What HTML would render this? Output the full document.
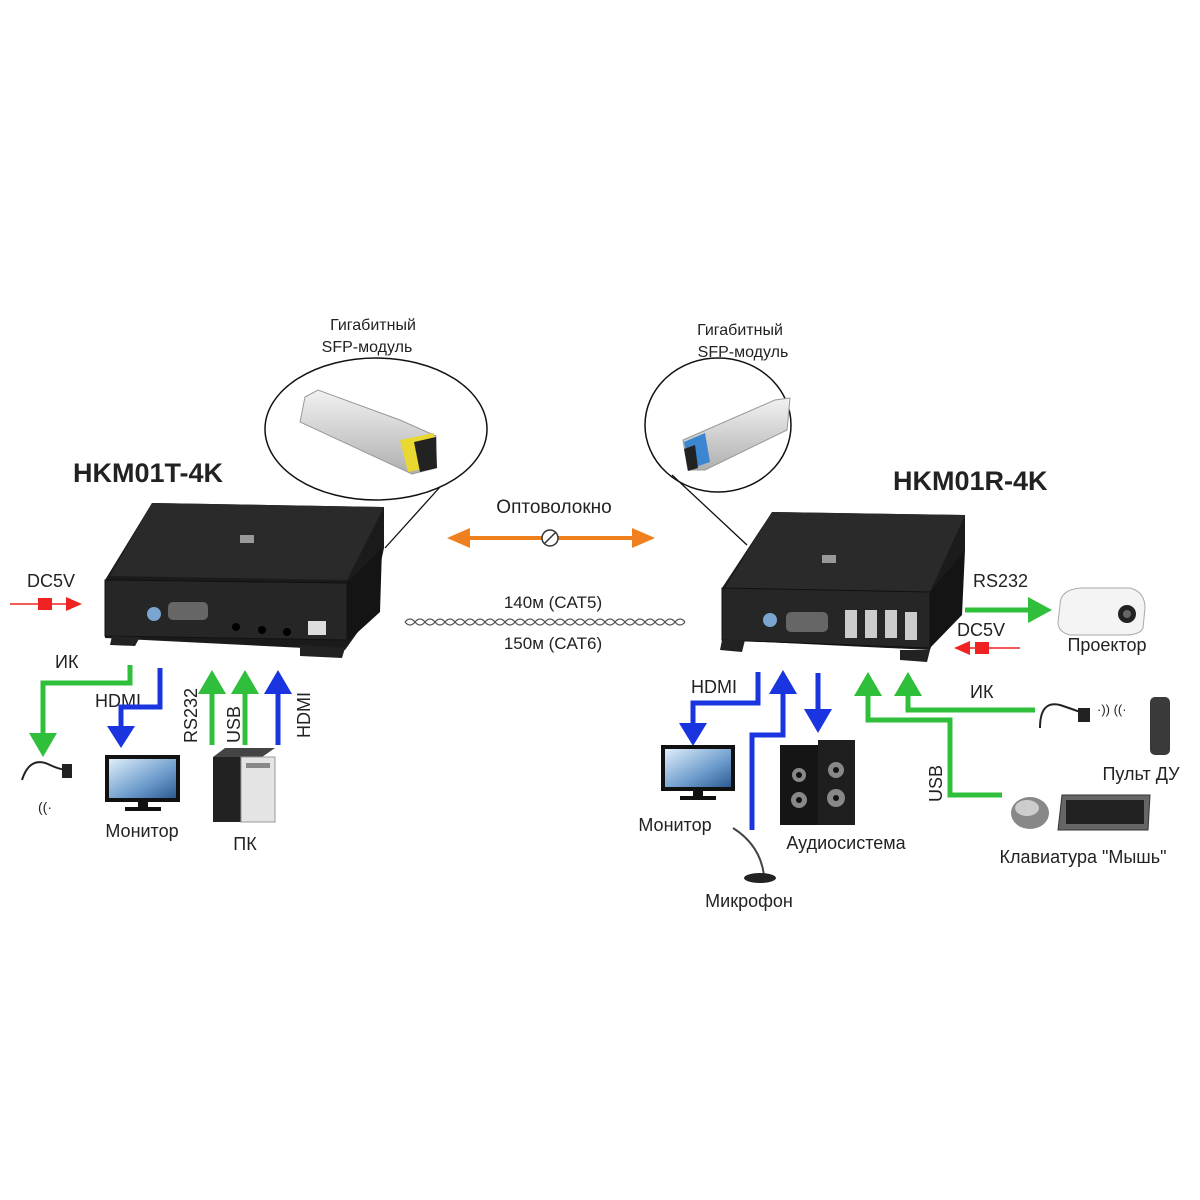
<!DOCTYPE html>
<html><head><meta charset="utf-8"><style>
html,body{margin:0;padding:0;background:#fff}
svg{display:block}
text{font-family:"Liberation Sans","DejaVu Sans",sans-serif;fill:#222}
</style></head><body>
<svg width="1200" height="1200" viewBox="0 0 1200 1200" xmlns="http://www.w3.org/2000/svg">
<defs>
<linearGradient id="sfp" x1="0" y1="0" x2="0" y2="1"><stop offset="0" stop-color="#f2f2f2"/><stop offset="1" stop-color="#b0b0b0"/></linearGradient>
<linearGradient id="scr" x1="0" y1="0" x2="1" y2="1"><stop offset="0" stop-color="#dfeefa"/><stop offset=".6" stop-color="#6d9ccc"/><stop offset="1" stop-color="#2c5b95"/></linearGradient>
</defs>

<!-- SFP ellipses -->
<ellipse cx="376" cy="429" rx="111" ry="71" fill="none" stroke="#111" stroke-width="1.5"/>
<line x1="440" y1="487" x2="385" y2="548" stroke="#111" stroke-width="1.3"/>
<ellipse cx="718" cy="425" rx="73" ry="67" fill="none" stroke="#111" stroke-width="1.5"/>
<line x1="672" y1="475" x2="747" y2="545" stroke="#111" stroke-width="1.3"/>
<!-- left SFP -->
<polygon points="305,397 318,390 400,420 436,436 436,468 412,474 300,422" fill="url(#sfp)" stroke="#999"/>
<polygon points="400,440 434,433 436,466 408,472" fill="#e8d830"/>
<polygon points="414,442 436,437 437,468 420,472" fill="#222"/>
<!-- right SFP -->
<polygon points="683,440 775,400 790,398 787,430 705,470 688,470" fill="url(#sfp)" stroke="#999"/>
<polygon points="684,442 705,433 710,462 690,469" fill="#3b86d0"/>
<polygon points="684,449 695,445 698,468 688,471" fill="#222"/>

<text x="373" y="330" font-size="16" text-anchor="middle">Гигабитный</text>
<text x="367" y="352" font-size="16" text-anchor="middle">SFP-модуль</text>
<text x="740" y="335" font-size="16" text-anchor="middle">Гигабитный</text>
<text x="743" y="357" font-size="16" text-anchor="middle">SFP-модуль</text>

<text x="73" y="482" font-size="27" font-weight="bold" fill="#111">HKM01T-4K</text>
<text x="893" y="490" font-size="27" font-weight="bold" fill="#111">HKM01R-4K</text>

<!-- left device -->
<polygon points="152,503 384,507 384,548 377,580 370,615 345,650 105,638 105,580" fill="#1b1b1b"/>
<polygon points="152,503 384,507 347,580 110,576" fill="#2a2a2a"/>
<polygon points="105,580 347,583 347,640 105,636" fill="#262626" stroke="#111"/>
<polygon points="347,583 382,548 380,612 347,642" fill="#141414"/>
<polygon points="112,636 140,637 135,646 110,645" fill="#222"/>
<polygon points="300,645 345,648 342,658 300,656" fill="#222"/>
<circle cx="154" cy="614" r="7" fill="#7aa5d0"/>
<rect x="168" y="602" width="40" height="18" rx="5" fill="#666"/>
<circle cx="236" cy="627" r="4" fill="#000"/><circle cx="262" cy="630" r="4" fill="#000"/><circle cx="287" cy="632" r="4" fill="#000"/>
<rect x="308" y="621" width="18" height="14" fill="#ddd"/>
<rect x="240" y="535" width="14" height="8" fill="#999"/>

<!-- right device -->
<polygon points="772,512 965,515 965,550 930,650 722,640 722,588" fill="#1b1b1b"/>
<polygon points="772,512 965,515 930,592 725,588" fill="#2a2a2a"/>
<polygon points="722,588 930,592 930,648 722,640" fill="#262626" stroke="#111"/>
<polygon points="930,592 965,550 962,615 930,648" fill="#141414"/>
<polygon points="722,640 745,640 742,652 720,650" fill="#222"/>
<polygon points="900,650 930,650 927,662 900,660" fill="#222"/>
<circle cx="770" cy="620" r="7" fill="#7aa5d0"/>
<rect x="786" y="612" width="42" height="20" rx="5" fill="#666"/>
<rect x="845" y="610" width="12" height="28" fill="#ccc"/><rect x="865" y="610" width="12" height="28" fill="#ccc"/>
<rect x="885" y="610" width="12" height="28" fill="#ccc"/><rect x="905" y="612" width="12" height="28" fill="#ccc"/>
<rect x="822" y="555" width="14" height="8" fill="#999"/>

<!-- fiber arrow -->
<line x1="462" y1="538" x2="640" y2="538" stroke="#f07f1e" stroke-width="4"/>
<polygon points="447,538 470,528 470,548" fill="#f07f1e"/>
<polygon points="655,538 632,528 632,548" fill="#f07f1e"/>
<circle cx="550" cy="538" r="8" fill="#fff" stroke="#333" stroke-width="1.5"/>
<line x1="544" y1="544" x2="556" y2="532" stroke="#333" stroke-width="1.5"/>
<text x="554" y="513" font-size="19" text-anchor="middle">Оптоволокно</text>

<text x="553" y="608" font-size="17" text-anchor="middle">140м (CAT5)</text>
<text x="553" y="649" font-size="17" text-anchor="middle">150м (CAT6)</text>
<path d="M405,622 Q410,616 415,622 T425,622 T435,622 T445,622 T455,622 T465,622 T475,622 T485,622 T495,622 T505,622 T515,622 T525,622 T535,622 T545,622 T555,622 T565,622 T575,622 T585,622 T595,622 T605,622 T615,622 T625,622 T635,622 T645,622 T655,622 T665,622 T675,622 T685,622" fill="none" stroke="#555" stroke-width="1.3"/>
<path d="M405,622 Q410,628 415,622 T425,622 T435,622 T445,622 T455,622 T465,622 T475,622 T485,622 T495,622 T505,622 T515,622 T525,622 T535,622 T545,622 T555,622 T565,622 T575,622 T585,622 T595,622 T605,622 T615,622 T625,622 T635,622 T645,622 T655,622 T665,622 T675,622 T685,622" fill="none" stroke="#555" stroke-width="1.3"/>

<!-- LEFT connections -->
<text x="27" y="587" font-size="18">DC5V</text>
<line x1="10" y1="604" x2="68" y2="604" stroke="#e22" stroke-width="1.5"/>
<rect x="38" y="598" width="14" height="12" fill="#e22"/>
<polygon points="82,604 66,597 66,611" fill="#e22"/>

<text x="55" y="668" font-size="18">ИК</text>
<polyline points="130,665 130,683 43,683 43,735" fill="none" stroke="#2fbf3a" stroke-width="5"/>
<polygon points="43,757 29,733 57,733" fill="#2fbf3a"/>
<text x="95" y="707" font-size="18">HDMI</text>
<polyline points="160,668 160,707 121,707 121,728" fill="none" stroke="#1a35e0" stroke-width="5"/>
<polygon points="121,748 107,726 135,726" fill="#1a35e0"/>

<line x1="212" y1="745" x2="212" y2="690" stroke="#2fbf3a" stroke-width="5"/>
<polygon points="212,670 198,694 226,694" fill="#2fbf3a"/>
<line x1="245" y1="745" x2="245" y2="690" stroke="#2fbf3a" stroke-width="5"/>
<polygon points="245,670 231,694 259,694" fill="#2fbf3a"/>
<line x1="278" y1="745" x2="278" y2="690" stroke="#1a35e0" stroke-width="5"/>
<polygon points="278,670 264,694 292,694" fill="#1a35e0"/>
<text transform="translate(197,743) rotate(-90)" font-size="18">RS232</text>
<text transform="translate(240,743) rotate(-90)" font-size="18">USB</text>
<text transform="translate(310,738) rotate(-90)" font-size="18">HDMI</text>

<!-- IR cable left -->
<path d="M22,780 Q30,755 50,765 Q65,772 70,768" fill="none" stroke="#222" stroke-width="2"/>
<rect x="62" y="764" width="10" height="14" fill="#222"/>
<text x="38" y="812" font-size="14" fill="#3a70c0">((·</text>
<!-- monitor left -->
<rect x="105" y="755" width="75" height="47" fill="#111"/>
<rect x="109" y="759" width="67" height="39" fill="url(#scr)"/>
<rect x="138" y="802" width="10" height="6" fill="#111"/>
<rect x="125" y="807" width="36" height="4" fill="#111"/>
<text x="142" y="837" font-size="18" text-anchor="middle">Монитор</text>
<!-- PC -->
<rect x="213" y="757" width="28" height="65" fill="#222"/>
<polygon points="213,757 225,748 275,748 262,757" fill="#444"/>
<rect x="241" y="757" width="34" height="65" fill="#e4e4e4" stroke="#999"/>
<rect x="246" y="763" width="24" height="5" fill="#888"/>
<text x="245" y="850" font-size="18" text-anchor="middle">ПК</text>

<!-- RIGHT connections -->
<text x="973" y="587" font-size="18">RS232</text>
<line x1="965" y1="610" x2="1030" y2="610" stroke="#2fbf3a" stroke-width="5"/>
<polygon points="1052,610 1028,597 1028,623" fill="#2fbf3a"/>
<text x="957" y="636" font-size="18">DC5V</text>
<line x1="970" y1="648" x2="1020" y2="648" stroke="#e22" stroke-width="1.5"/>
<rect x="975" y="642" width="14" height="12" fill="#e22"/>
<polygon points="954,648 970,641 970,655" fill="#e22"/>
<!-- projector -->
<path d="M1060,605 Q1060,590 1080,588 L1130,588 Q1145,592 1145,608 L1143,628 Q1140,635 1125,635 L1070,635 Q1058,632 1058,622 Z" fill="#f4f4f4" stroke="#aaa"/>
<circle cx="1127" cy="614" r="9" fill="#222"/><circle cx="1127" cy="614" r="4" fill="#666"/>
<text x="1107" y="651" font-size="18" text-anchor="middle">Проектор</text>

<text x="691" y="693" font-size="18">HDMI</text>
<polyline points="758,672 758,703 693,703 693,725" fill="none" stroke="#1a35e0" stroke-width="5"/>
<polygon points="693,746 679,723 707,723" fill="#1a35e0"/>
<polyline points="752,830 752,735 783,735 783,693" fill="none" stroke="#1a35e0" stroke-width="5"/>
<polygon points="783,670 769,694 797,694" fill="#1a35e0"/>
<line x1="818" y1="673" x2="818" y2="712" stroke="#1a35e0" stroke-width="5"/>
<polygon points="818,733 804,709 832,709" fill="#1a35e0"/>

<polyline points="868,693 868,720 950,720 950,795 1002,795" fill="none" stroke="#2fbf3a" stroke-width="5"/>
<polygon points="868,672 854,696 882,696" fill="#2fbf3a"/>
<polyline points="908,693 908,710 1035,710" fill="none" stroke="#2fbf3a" stroke-width="5"/>
<polygon points="908,672 894,696 922,696" fill="#2fbf3a"/>
<text x="970" y="698" font-size="18">ИК</text>
<text transform="translate(942,802) rotate(-90)" font-size="18">USB</text>

<!-- IR cable right -->
<path d="M1040,728 Q1040,700 1060,705 Q1075,710 1080,712" fill="none" stroke="#222" stroke-width="2"/>
<rect x="1078" y="708" width="12" height="14" fill="#222"/>
<text x="1097" y="714" font-size="13" fill="#3a70c0">·)) ((·</text>
<rect x="1150" y="697" width="20" height="58" rx="5" fill="#3a3a3a"/>
<text x="1141" y="780" font-size="18" text-anchor="middle">Пульт ДУ</text>
<!-- mouse + keyboard -->
<ellipse cx="1030" cy="813" rx="19" ry="16" fill="#888"/>
<ellipse cx="1027" cy="808" rx="12" ry="8" fill="#ccc"/>
<polygon points="1062,795 1150,795 1148,830 1058,830" fill="#666" stroke="#333"/>
<rect x="1066" y="800" width="78" height="24" fill="#222"/>
<text x="1083" y="863" font-size="18" text-anchor="middle">Клавиатура "Мышь"</text>
<!-- monitor right -->
<rect x="661" y="745" width="74" height="46" fill="#111"/>
<rect x="665" y="749" width="66" height="38" fill="url(#scr)"/>
<rect x="693" y="791" width="10" height="6" fill="#111"/>
<rect x="680" y="796" width="36" height="4" fill="#111"/>
<text x="675" y="831" font-size="18" text-anchor="middle">Монитор</text>
<!-- speakers -->
<rect x="780" y="745" width="38" height="80" fill="#151515"/>
<rect x="818" y="740" width="37" height="85" fill="#1e1e1e"/>
<circle cx="799" cy="775" r="7" fill="#888"/><circle cx="799" cy="800" r="8" fill="#888"/>
<circle cx="836" cy="770" r="8" fill="#888"/><circle cx="836" cy="798" r="9" fill="#888"/>
<circle cx="799" cy="775" r="3" fill="#111"/><circle cx="799" cy="800" r="3" fill="#111"/>
<circle cx="836" cy="770" r="3" fill="#111"/><circle cx="836" cy="798" r="3" fill="#111"/>
<text x="846" y="849" font-size="18" text-anchor="middle">Аудиосистема</text>
<!-- mic -->
<path d="M733,828 Q760,845 764,875" fill="none" stroke="#444" stroke-width="2"/>
<ellipse cx="760" cy="878" rx="16" ry="5" fill="#222"/>
<text x="749" y="907" font-size="18" text-anchor="middle">Микрофон</text>
</svg>
</body></html>
